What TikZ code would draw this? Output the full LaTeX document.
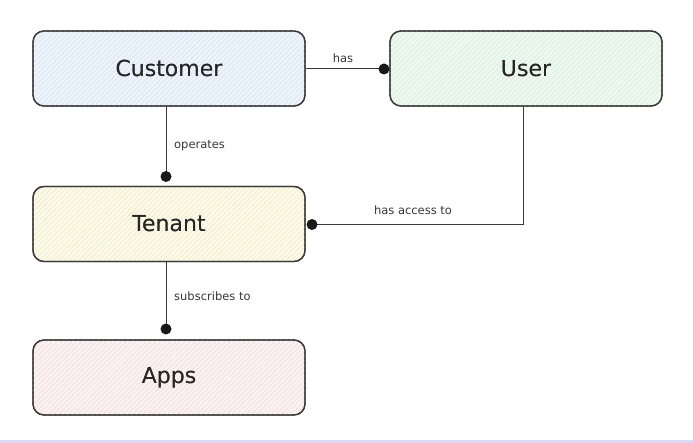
\documentclass[tikz,border=0pt]{standalone}
\usepackage{fontspec}
\setmainfont{DejaVu Sans}
\usetikzlibrary{patterns.meta}
\definecolor{edge}{HTML}{3A3A3A}
\definecolor{cblue}{HTML}{EEF4FC}
\definecolor{cgreen}{HTML}{EEF8F0}
\definecolor{cyellow}{HTML}{FCFAE8}
\definecolor{cpink}{HTML}{FCF2F2}
\definecolor{hblue}{HTML}{CFDFF3}
\definecolor{hgreen}{HTML}{D0EDD5}
\definecolor{hyellow}{HTML}{EDE6BC}
\definecolor{hpink}{HTML}{EED6D6}
\definecolor{lav}{HTML}{DCDAF5}
\tikzset{
  entity/.style={draw=edge, line width=1.3pt, rounded corners=11pt,
    minimum width=272pt, minimum height=75pt, inner sep=0pt,
    font=\fontsize{22}{26}\selectfont, text=black!85},
  hatch/.style={pattern={Lines[angle=45,distance=3.5pt,line width=0.45pt]}, pattern color=#1},
  conn/.style={draw=edge, line width=1pt},
  lbl/.style={font=\fontsize{11.5}{13}\selectfont, text=black!78, inner sep=1pt},
  dotend/.style={fill=black!90, draw=none}
}
\begin{document}
\begin{tikzpicture}[x=1pt,y=-1pt]
\useasboundingbox (0,0) rectangle (693,443);
\fill[white] (0,0) rectangle (693,443);
\fill[lav] (0,440) rectangle (693,443);
% nodes
\node[entity, fill=cblue] (cust) at (169,68.5) {Customer};
\node[entity, fill=cgreen] (user) at (526,68.5) {User};
\node[entity, fill=cyellow] (ten) at (169,224) {Tenant};
\node[entity, fill=cpink] (apps) at (169,377.5) {Apps};
% hatching
\foreach \n/\c in {cust/hblue,user/hgreen,ten/hyellow,apps/hpink}{
  \path[hatch=\c, rounded corners=11pt] (\n.south west) rectangle (\n.north east);
}
\foreach \n/\t in {cust/Customer,user/User,ten/Tenant,apps/Apps}{
  \node[entity, fill=none] at (\n) {\t};
}
% connectors
\coordinate (d1) at (384,69);
\draw[conn] (cust.east |- d1) -- (d1);
\fill[dotend] (d1) circle (5.5pt);
\node[lbl] (l1) at (343,58) {has};

\coordinate (d2) at (166,176.5);
\draw[conn] (cust.south -| d2) -- (d2);
\fill[dotend] (d2) circle (5.5pt);
\node[lbl, anchor=west] (l2) at (173,146) {operates};

\coordinate (d3) at (312,224.5);
\coordinate (bend) at (523,224.5);
\draw[conn] (user.south -| bend) -- (bend) -- (d3);
\fill[dotend] (d3) circle (5.5pt);
\node[lbl] (l3) at (413,210) {has access to};

\coordinate (d4) at (166,329);
\draw[conn] (ten.south -| d4) -- (d4);
\fill[dotend] (d4) circle (5.5pt);
\node[lbl, anchor=west] (l4) at (173,296) {subscribes to};
\end{tikzpicture}
\end{document}
